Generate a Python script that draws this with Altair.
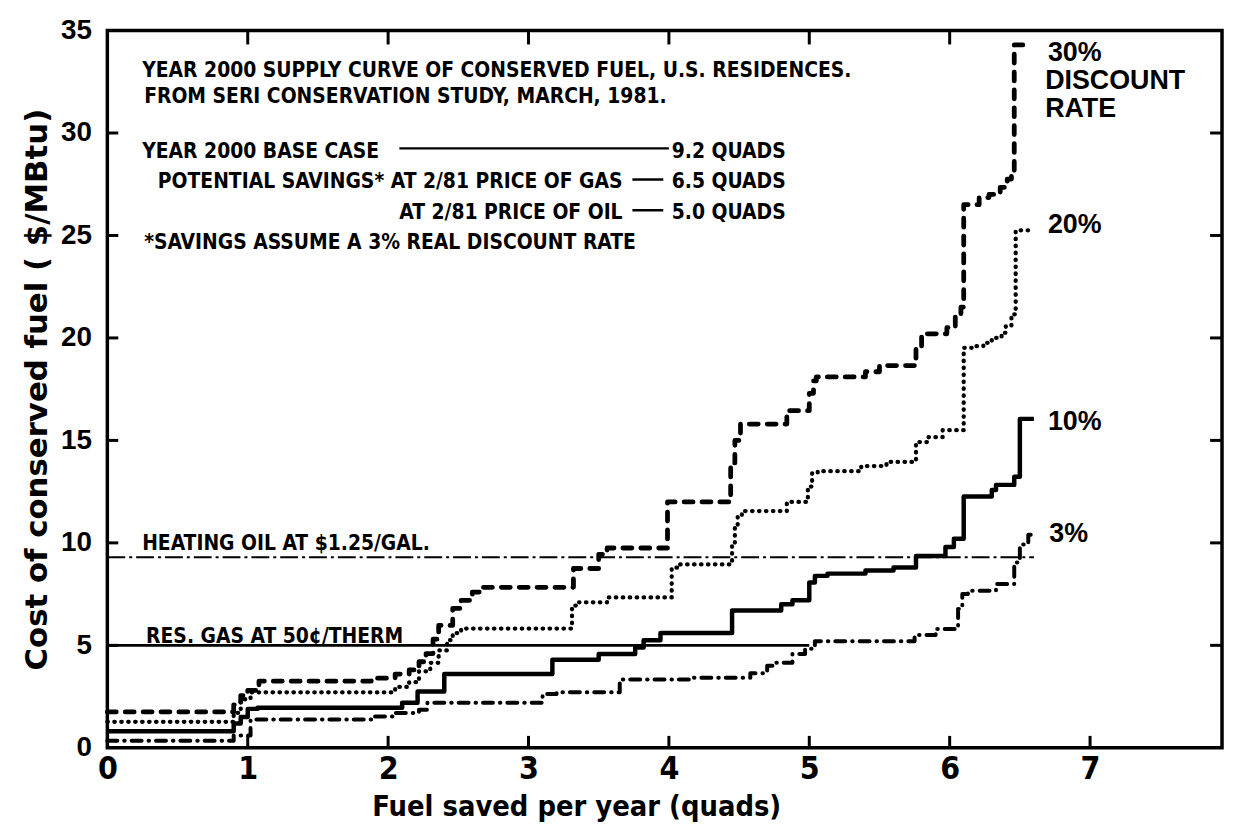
import altair as alt
import pandas as pd

# ---------------- data ----------------
# 30% discount rate (dashed)
q30 = [0, 0.9, 0.95, 1.0, 1.08, 1.88, 2.05, 2.15, 2.22, 2.27, 2.32, 2.36, 2.46, 2.52, 2.6,
       2.66, 3.32, 3.5, 3.56, 3.99, 4.44, 4.47, 4.51, 4.84, 5.0, 5.03, 5.05, 5.4, 5.5, 5.76,
       5.8, 5.98, 6.04, 6.08, 6.1, 6.21, 6.28, 6.36, 6.41, 6.44, 6.46, 6.58]
v30 = [1.75, 2.1, 2.55, 2.8, 3.25, 3.4, 3.6, 3.8, 4.2, 4.6, 5.3, 5.97, 6.8, 7.2, 7.6,
       7.83, 8.75, 9.44, 9.75, 12.0, 13.9, 15.0, 15.8, 16.45, 17.3, 17.9, 18.1, 18.35, 18.65, 19.5,
       20.2, 20.5, 21.15, 21.5, 26.5, 26.85, 27.0, 27.35, 27.75, 28.1, 34.3, 34.3]

# 20% discount rate (dotted)
q20 = [0, 0.9, 0.95, 1.02, 2.05, 2.15, 2.22, 2.3, 2.36, 2.42, 2.46, 2.52, 3.31, 3.36, 3.56,
       4.02, 4.06, 4.45, 4.47, 4.49, 4.52, 4.84, 4.99, 5.02, 5.06, 5.37, 5.55, 5.76, 5.85, 5.95,
       6.1, 6.16, 6.24, 6.3, 6.37, 6.4, 6.44, 6.47, 6.57]
v20 = [1.27, 1.7, 2.37, 2.71, 2.97, 3.2, 3.73, 4.15, 4.75, 5.25, 5.6, 5.82, 6.94, 7.1, 7.34,
       8.79, 8.95, 10.0, 10.8, 11.3, 11.55, 12.0, 12.75, 13.39, 13.5, 13.75, 13.95, 14.92, 15.16, 15.5,
       19.52, 19.6, 19.76, 20.0, 20.25, 20.57, 21.15, 25.25, 25.25]

# 10% discount rate (solid)
q10 = [0, 0.9, 0.95, 1.0, 1.07, 2.1, 2.21, 2.4, 3.17, 3.5, 3.76, 3.82, 3.94, 4.45, 4.8,
       4.88, 5.0, 5.04, 5.13, 5.4, 5.6, 5.76, 5.97, 6.03, 6.1, 6.3, 6.33, 6.46, 6.5, 6.6]
v10 = [0.81, 1.19, 1.5, 1.9, 1.95, 2.2, 2.75, 3.6, 4.3, 4.58, 4.9, 5.25, 5.6, 6.7, 7.0,
       7.2, 8.07, 8.39, 8.5, 8.65, 8.8, 9.36, 9.8, 10.2, 12.26, 12.58, 12.83, 13.23, 16.05, 16.05]

# 3% discount rate (dash-dot)
q03 = [0, 0.9, 1.02, 1.88, 2.05, 2.22, 2.28, 3.1, 3.2, 3.65, 4.15, 4.58, 4.7, 4.76, 4.88,
       4.97, 5.04, 5.75, 5.9, 6.06, 6.09, 6.13, 6.33, 6.46, 6.5, 6.56, 6.6]
v03 = [0.34, 0.6, 1.38, 1.53, 1.7, 1.86, 2.2, 2.63, 2.71, 3.33, 3.42, 3.64, 4.0, 4.15, 4.58,
       4.83, 5.2, 5.5, 5.8, 6.78, 7.5, 7.66, 7.99, 9.04, 9.92, 10.4, 10.4]

# reference price lines
oil_q = [0, 6.6]
oil_v = [9.3, 9.3]
gas_q = [0, 5.0]
gas_v = [5.0, 5.0]

# axis ticks
x_labels = [0, 1, 2, 3, 4, 5, 6, 7]
y_labels = [0, 5, 10, 15, 20, 25, 30, 35]
x_in_ticks = [1, 2, 3, 4, 5, 6, 7]
x_top_ticks = [1, 2, 3, 4, 5, 6]
y_in_ticks = [5, 10, 15, 20, 25, 30]

# annotation texts (left-aligned block)
note_text = ["YEAR 2000 SUPPLY CURVE OF CONSERVED FUEL, U.S. RESIDENCES.",
             "FROM SERI CONSERVATION STUDY, MARCH, 1981.",
             "YEAR 2000 BASE CASE",
             "*SAVINGS ASSUME A 3% REAL DISCOUNT RATE",
             "HEATING OIL AT $1.25/GAL.",
             "RES. GAS AT 50¢/THERM"]
note_q = [0.248, 0.262, 0.248, 0.262, 0.248, 0.276]
note_v = [32.75, 31.45, 28.8, 24.33, 9.65, 5.13]

# right-aligned savings lines
sav_text = ["POTENTIAL SAVINGS* AT 2/81 PRICE OF GAS", "AT 2/81 PRICE OF OIL"]
sav_q = [3.67, 3.67]
sav_v = [27.3, 25.8]

# quads values
quad_text = ["9.2 QUADS", "6.5 QUADS", "5.0 QUADS"]
quad_q = [4.02, 4.02, 4.02]
quad_v = [28.8, 27.3, 25.8]

# leader dashes
dash_q = [2.08, 3.74, 3.74]
dash_q2 = [4.0, 3.96, 3.96]
dash_v = [29.25, 27.73, 26.23]

# curve labels
rate_text = ["30%", "DISCOUNT", "RATE", "20%", "10%", "3%"]
rate_q = [6.7, 6.68, 6.68, 6.7, 6.7, 6.71]
rate_v = [33.5, 32.14, 30.78, 25.1, 15.5, 10.03]

# ---------------- chart ----------------
W, H = 1122, 722
xs = alt.Scale(domain=[0, 7.94], nice=False, zero=False)
ys = alt.Scale(domain=[0, 35], nice=False, zero=False)

COND = "DejaVu Sans Condensed"
BOLDSANS = "Liberation Sans"

x_axis = alt.Axis(values=x_labels, format="d", labelFont=COND, labelFontSize=32,
                  labelFontWeight="bold", labelColor="black", labelPadding=6,
                  labelFlush=False, ticks=False, domain=False, grid=False,
                  title="Fuel saved per year (quads)", titleFont=COND, titleFontSize=29,
                  titleFontWeight="bold", titleColor="black", titleX=472, titleY=68,
                  titleAlign="center", titleBaseline="alphabetic")
y_axis = alt.Axis(values=y_labels, format="d", labelFont=BOLDSANS, labelFontSize=28,
                  labelFontWeight="bold", labelColor="black", labelPadding=16,
                  labelFlush=False, ticks=False, domain=False, grid=False,
                  title="Cost of conserved fuel ( $/MBtu)", titleFont="DejaVu Sans",
                  titleFontSize=31, titleFontWeight="bold", titleColor="black",
                  titleX=-61, titleY=H / 2, titleAlign="center", titleBaseline="alphabetic",
                  titleAngle=270)

X = alt.X("q:Q", scale=xs, axis=x_axis)
Y = alt.Y("v:Q", scale=ys, axis=y_axis)


def curve(qs, vs, dash, width, cap):
    df = pd.DataFrame({"q": qs, "v": vs})
    return alt.Chart(df).mark_line(interpolate="step-after", color="black",
                                   strokeWidth=width, strokeDash=dash,
                                   strokeCap=cap, strokeJoin="round").encode(x=X, y=Y)


c30 = curve(q30, v30, [9, 9], 4.8, "round")
c20 = curve(q20, v20, [0.5, 6.5], 4.3, "round")
c10 = curve(q10, v10, [1, 0], 4.5, "butt")
c03 = curve(q03, v03, [10, 7, 0.5, 7], 4.0, "round")

oil = alt.Chart(pd.DataFrame({"q": oil_q, "v": oil_v})).mark_line(
    color="black", strokeWidth=2.2, strokeDash=[18, 4, 3, 4]).encode(x=X, y=Y)
gas = alt.Chart(pd.DataFrame({"q": gas_q, "v": gas_v})).mark_line(
    color="black", strokeWidth=2.6).encode(x=X, y=Y)

# inward ticks on all four sides
xt = pd.DataFrame({"q": x_in_ticks})
xtt = pd.DataFrame({"q": x_top_ticks})
yt = pd.DataFrame({"v": y_in_ticks})
bot_ticks = alt.Chart(xt).mark_rule(color="black", strokeWidth=3).encode(
    x=X, y=alt.value(H), y2=alt.value(H - 12))
top_ticks = alt.Chart(xtt).mark_rule(color="black", strokeWidth=3).encode(
    x=X, y=alt.value(0), y2=alt.value(14))
left_ticks = alt.Chart(yt).mark_rule(color="black", strokeWidth=3).encode(
    y=Y, x=alt.value(0), x2=alt.value(11))
right_ticks = alt.Chart(yt).mark_rule(color="black", strokeWidth=3).encode(
    y=Y, x=alt.value(W), x2=alt.value(W - 12))

notes = alt.Chart(pd.DataFrame({"q": note_q, "v": note_v, "t": note_text})).mark_text(
    align="left", baseline="alphabetic", font=COND, fontSize=21, fontWeight="bold",
    color="black").encode(x=X, y=Y, text="t:N")
savs = alt.Chart(pd.DataFrame({"q": sav_q, "v": sav_v, "t": sav_text})).mark_text(
    align="right", baseline="alphabetic", font=COND, fontSize=21, fontWeight="bold",
    color="black").encode(x=X, y=Y, text="t:N")
quads = alt.Chart(pd.DataFrame({"q": quad_q, "v": quad_v, "t": quad_text})).mark_text(
    align="left", baseline="alphabetic", font=COND, fontSize=21, fontWeight="bold",
    color="black").encode(x=X, y=Y, text="t:N")
dashes = alt.Chart(pd.DataFrame({"q": dash_q, "q2": dash_q2, "v": dash_v})).mark_rule(
    color="black", strokeWidth=2.5).encode(x=X, x2="q2:Q", y=Y)
rates = alt.Chart(pd.DataFrame({"q": rate_q, "v": rate_v, "t": rate_text})).mark_text(
    align="left", baseline="alphabetic", font=BOLDSANS, fontSize=27, fontWeight="bold",
    color="black").encode(x=X, y=Y, text="t:N")

chart = alt.layer(
    gas, oil, c03, c10, c20, c30,
    bot_ticks, top_ticks, left_ticks, right_ticks,
    notes, savs, quads, dashes, rates
).properties(
    width=W, height=H,
    autosize=alt.AutoSizeParams(type="none"),
    padding={"left": 100, "top": 20, "right": 3, "bottom": 73},
    background="white",
).configure_view(stroke="black", strokeWidth=3.5)

chart.save("out.html", embed_options={"renderer": "svg", "actions": False})
